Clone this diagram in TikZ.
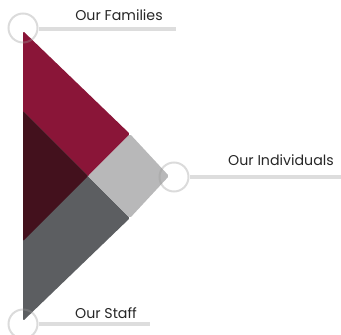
\documentclass[tikz,border=0pt]{standalone}
\usepackage{fontspec}
\setmainfont{Poppins}
\definecolor{crimson}{HTML}{8A1538}
\definecolor{maroon}{HTML}{43111D}
\definecolor{slate}{HTML}{5C5E61}
\definecolor{silver}{HTML}{B8B8B9}
\definecolor{rule}{HTML}{DDDDDD}
\begin{document}
\begin{tikzpicture}[x=1pt,y=-1pt,
  ring/.style={circle,draw=black!40,draw opacity=0.35,line width=2pt,minimum size=29pt,inner sep=0pt},
  bar/.style={draw=rule,line width=4pt},
  lbl/.style={font=\fontsize{14.2}{16}\selectfont,anchor=base,inner sep=0pt,text=black!85}]
\useasboundingbox (0,0) rectangle (341,335);
% shapes
\fill[crimson,rounded corners=1.5pt] (23,31) -- (130,134) -- (88,176) -- (23,241) -- cycle;
\fill[slate,rounded corners=1.5pt] (23,111) -- (88,176) -- (130,218) -- (23,321) -- cycle;
\fill[maroon,rounded corners=1pt] (23,111) -- (88,176) -- (23,241) -- cycle;
\fill[silver,rounded corners=1.5pt] (88,176) -- (130,134) -- (169,176) -- (130,218) -- cycle;
% rings and bars
\node[ring] (c1) at (23,28) {};
\node[ring] (c2) at (174,177) {};
\node[ring] (c3) at (23,324) {};
\coordinate (e1) at (176,29);
\coordinate (e2) at (341,177);
\coordinate (e3) at (150,324);
\draw[bar] (c1.east |- e1) -- (e1);
\draw[bar] (c2.east |- e2) -- (e2);
\draw[bar] (c3.east |- e3) -- (e3);
\node[lbl] (t1) at (119,20) {Our Families};
\node[lbl] (t2) at (281,165) {Our Individuals};
\node[lbl] (t3) at (106,318) {Our Staff};
\end{tikzpicture}
\end{document}
